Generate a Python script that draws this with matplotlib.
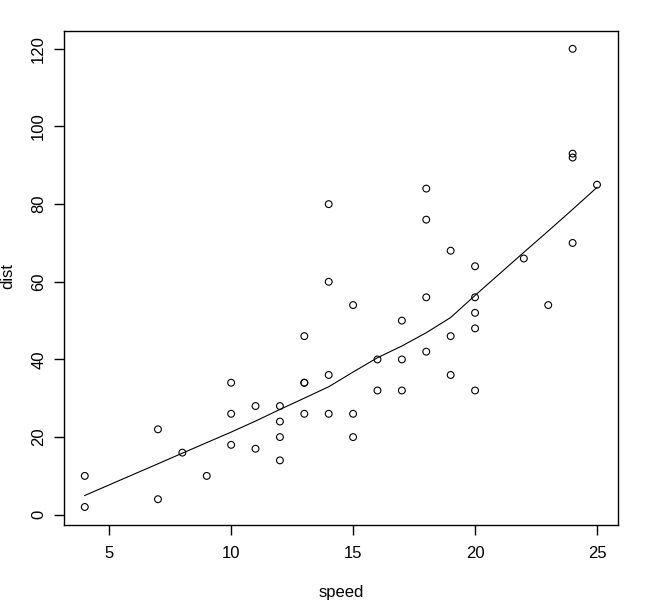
import matplotlib
matplotlib.use("Agg")
import matplotlib.pyplot as plt

speed = [4,4,7,7,8,9,10,10,10,11,11,12,12,12,12,13,13,13,13,14,14,14,14,15,15,15,16,16,17,17,17,18,18,18,18,19,19,19,20,20,20,20,20,22,23,24,24,24,24,25]
dist = [2,10,4,22,16,10,18,26,34,17,28,14,20,24,28,26,34,34,46,26,36,60,80,20,26,54,32,40,32,40,50,42,56,76,84,36,46,68,32,48,52,56,64,66,54,70,92,93,120,85]
lowess_x = [4,7,8,9,10,11,12,13,14,15,16,17,18,19,20,22,23,24,25]
lowess_y = [4.965459,13.124495,15.858633,18.579691,21.280313,24.129277,27.119549,30.027276,32.962506,36.757728,40.435075,43.463492,46.885479,50.793152,56.491224,67.585824,73.079695,78.643164,84.328698]
xticks = [5,10,15,20,25]
yticks = [0,20,40,60,80,100,120]

plt.rcParams['font.family'] = ['Liberation Sans', 'DejaVu Sans']
W, H = 650, 611
fig = plt.figure(figsize=(W/100, H/100), dpi=100)
left, right, top, bottom = 64.3, 617.5, 30.5, 525.3
ax = fig.add_axes([left/W, 1-bottom/H, (right-left)/W, (bottom-top)/H])
ax.scatter(speed, dist, s=24, facecolors='none', edgecolors='black', linewidths=0.8)
ax.plot(lowess_x, lowess_y, color='black', linewidth=0.8)
ax.set_xlim(3.16, 25.84)
ax.set_ylim(-2.72, 124.72)
ax.set_xticks(xticks)
ax.set_yticks(yticks)
ax.set_yticklabels([str(v) for v in yticks], rotation=90, va='center')
ax.tick_params(direction='out', length=7, width=1, labelsize=12, pad=6)
ax.tick_params(axis='x', pad=8)
for s in ax.spines.values():
    s.set_linewidth(1)
fig.text(341/W, 1-593/H, 'speed', ha='center', va='center', fontsize=12)
fig.text(8/W, 1-276/H, 'dist', ha='center', va='center', rotation=90, fontsize=12)
fig.savefig('out.png', dpi=100)
